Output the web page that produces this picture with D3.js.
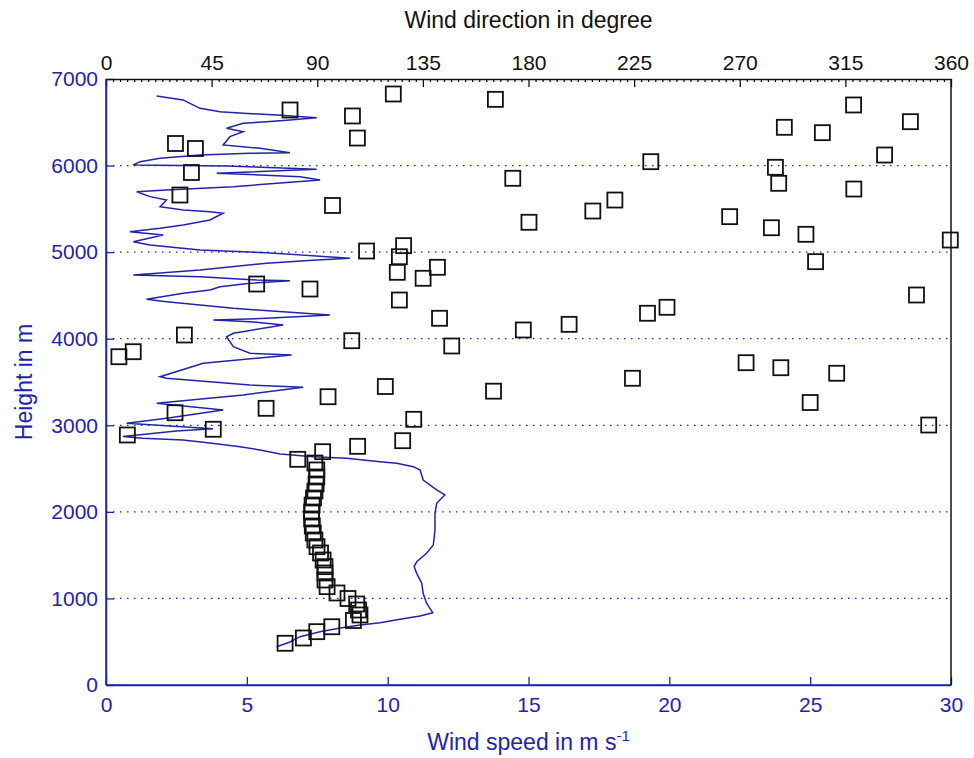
<!DOCTYPE html>
<html>
<head>
<meta charset="utf-8">
<script src="https://cdn.jsdelivr.net/npm/d3@7"></script>
<style>
  html, body { margin: 0; padding: 0; background: #ffffff; }
  svg { display: block; }
  text { font-family: "Liberation Sans", Arial, sans-serif; }
</style>
</head>
<body>
<svg id="chart" width="974" height="758"></svg>
<script>
// Wind speed profile (m s-1) against height (m)
const speedHeight = [442, 497, 558, 616, 658, 693, 720, 759, 797, 835, 944, 1059, 1175, 1290, 1367, 1424,
  1521, 1617, 1790, 1983, 2099, 2195, 2253, 2368, 2484, 2522, 2561, 2579, 2619, 2637, 2668, 2715, 2753,
  2795, 2830, 2850, 2870, 2935, 2960, 3023, 3081, 3177, 3254, 3350, 3439, 3465, 3543, 3561, 3716, 3812,
  3832, 3908, 4023, 4063, 4159, 4197, 4216, 4236, 4274, 4351, 4428, 4455, 4525, 4563, 4601, 4640, 4670,
  4678, 4717, 4736, 4794, 4871, 4909, 4929, 4994, 5025, 5083, 5121, 5198, 5236, 5275, 5314, 5372, 5449,
  5467, 5487, 5525, 5602, 5641, 5698, 5718, 5756, 5833, 5872, 5911, 5957, 5995, 6007, 6045, 6084, 6122,
  6142, 6149, 6200, 6238, 6334, 6391, 6431, 6488, 6507, 6527, 6553, 6584, 6604, 6622, 6661, 6719, 6758, 6804];
const speedValue = [6.06, 6.53, 6.89, 7.60, 8.31, 9.02, 9.73, 10.44, 11.15, 11.60, 11.38, 11.26, 11.21, 11.03, 10.94, 11.03,
  11.38, 11.62, 11.68, 11.68, 11.74, 12.03, 11.74, 11.26, 11.15, 10.91, 10.32, 9.73, 8.54, 7.36, 6.18, 5.47, 4.76,
  3.69, 2.73, 1.30, 0.60, 2.50, 3.80, 0.73, 2.15, 4.16, 1.80, 4.87, 7.00, 5.11, 2.15, 1.92, 3.45, 6.59,
  5.11, 4.52, 4.28, 4.52, 6.29, 5.11, 3.81, 5.70, 7.95, 4.52, 2.15, 1.44, 2.74, 3.69, 4.05, 5.11, 6.53,
  5.35, 3.34, 0.97, 3.34, 5.70, 7.48, 8.66, 5.70, 3.34, 1.56, 0.97, 2.03, 0.85, 1.92, 2.74, 3.69, 4.16,
  3.69, 2.74, 1.92, 2.15, 1.56, 1.09, 2.15, 4.52, 7.60, 6.89, 3.93, 7.48, 4.28, 0.97, 1.21, 1.92, 3.34,
  5.11, 6.53, 5.47, 4.16, 4.40, 4.87, 4.28, 4.87, 5.70, 6.53, 7.48, 6.06, 4.87, 4.05, 3.34, 2.98, 2.74, 1.80];

// Wind direction (degree) against height (m)
const dirHeight = [482, 543, 616, 673, 745, 809, 866, 936, 999, 1063, 1136, 1213, 1294, 1367, 1444, 1525,
  1598, 1675, 1756, 1837, 1918, 1998, 2079, 2160, 2241, 2322, 2403, 2484, 2564,
  2607, 2695, 2757, 2822, 2888, 2954, 3003, 3069, 3145, 3196, 3263, 3330, 3394, 3448, 3543, 3601, 3665,
  3723, 3792, 3850, 3916, 3977, 4043, 4101, 4166, 4236, 4294, 4363, 4447, 4505, 4574, 4632, 4698, 4767,
  4825, 4890, 4947, 5013, 5075, 5140, 5206, 5282, 5345, 5410, 5475, 5539, 5602, 5660, 5729, 5795, 5853,
  5920, 5980, 6045, 6122, 6197, 6255, 6318, 6380, 6442, 6507, 6573, 6642, 6700, 6765, 6827];
const dirValue = [76.3, 84.1, 89.8, 96.2, 105.4, 108.2, 107.6, 106.8, 103.1, 98.4, 94.2, 93.3, 93.3, 93.3, 92.5, 91.4,
  89.9, 89.0, 88.3, 87.9, 87.6, 87.6, 87.8, 88.4, 89.0, 89.5, 89.8, 89.8, 89.0,
  81.7, 92.3, 107.2, 126.4, 9.1, 45.7, 350.5, 131.1, 29.4, 68.2, 300.0, 94.6, 165.1, 119.0, 224.3, 311.3, 287.5,
  272.7, 5.5, 11.6, 147.3, 104.7, 33.4, 177.8, 197.3, 142.1, 230.7, 239.0, 125.0, 345.3, 86.9, 64.2, 135.1, 124.1,
  141.2, 302.3, 125.0, 111.0, 126.8, 359.7, 298.2, 283.5, 180.2, 265.7, 207.4, 96.5, 216.8, 31.5, 318.6, 286.6, 173.3,
  36.4, 285.2, 232.1, 331.7, 38.1, 29.6, 107.1, 305.2, 289.0, 342.7, 105.0, 78.4, 318.5, 165.9, 122.4];

// Axis tick values
const speedTicks = [0, 5, 10, 15, 20, 25, 30];
const heightTicks = [0, 1000, 2000, 3000, 4000, 5000, 6000, 7000];
const gridHeights = [1000, 2000, 3000, 4000, 5000, 6000];
const dirTicks = [0, 45, 90, 135, 180, 225, 270, 315, 360];

const blue = "#2323aa";
const black = "#111111";
const plot = { left: 106, right: 951, top: 79, bottom: 685 };

const svg = d3.select("#chart");

const xSpeed = d3.scaleLinear().domain([0, 30]).range([plot.left, plot.right]);
const xDir = d3.scaleLinear().domain([0, 360]).range([plot.left, plot.right]);
const y = d3.scaleLinear().domain([0, 7000]).range([plot.bottom, plot.top]);

// dotted horizontal grid
svg.append("g").selectAll("line").data(gridHeights).join("line")
  .attr("x1", plot.left).attr("x2", plot.right)
  .attr("y1", d => y(d)).attr("y2", d => y(d))
  .attr("stroke", blue).attr("stroke-width", 1.2)
  .attr("stroke-dasharray", "1.5,5.5");

// wind speed profile
const speedPts = speedHeight.map((h, i) => [speedValue[i], h]);
svg.append("path")
  .datum(speedPts)
  .attr("fill", "none")
  .attr("stroke", blue)
  .attr("stroke-width", 1.5)
  .attr("stroke-linejoin", "miter")
  .attr("d", d3.line().x(d => xSpeed(d[0])).y(d => y(d[1])));

// wind direction markers
const side = 15;
const dirPts = dirHeight.map((h, i) => [dirValue[i], h]);
svg.append("g").selectAll("rect").data(dirPts).join("rect")
  .attr("x", d => xDir(d[0]) - side / 2)
  .attr("y", d => y(d[1]) - side / 2)
  .attr("width", side).attr("height", side)
  .attr("fill", "none")
  .attr("stroke", black)
  .attr("stroke-width", 1.8);

function styleAxis(g, color, size) {
  g.selectAll(".domain").attr("stroke", color).attr("stroke-width", 1.5);
  g.selectAll(".tick line").attr("stroke", color).attr("stroke-width", 1.3);
  g.selectAll(".tick text").attr("fill", color)
    .style("font-size", size + "px")
    .style("font-family", '"Liberation Sans", Arial, sans-serif');
}

// bottom axis: wind speed
const gx = svg.append("g")
  .attr("transform", `translate(0,${plot.bottom})`)
  .call(d3.axisBottom(xSpeed).tickValues(speedTicks).tickFormat(d3.format("d"))
    .tickSizeInner(-8).tickSizeOuter(0).tickPadding(12));
styleAxis(gx, blue, 21);

// left axis: height
const gy = svg.append("g")
  .attr("transform", `translate(${plot.left},0)`)
  .call(d3.axisLeft(y).tickValues(heightTicks).tickFormat(d3.format("d"))
    .tickSizeInner(-8).tickSizeOuter(0).tickPadding(8));
styleAxis(gy, blue, 21);

// top axis: wind direction, with minor ticks
const minorDir = d3.range(0, 361, 3).filter(d => d % 45 !== 0);
const gtMinor = svg.append("g")
  .attr("transform", `translate(0,${plot.top})`)
  .call(d3.axisTop(xDir).tickValues(minorDir).tickFormat("")
    .tickSizeInner(-3).tickSizeOuter(0));
styleAxis(gtMinor, black, 21);
gtMinor.select(".domain").remove();

const gt = svg.append("g")
  .attr("transform", `translate(0,${plot.top})`)
  .call(d3.axisTop(xDir).tickValues(dirTicks).tickFormat(d3.format("d"))
    .tickSizeInner(-8).tickSizeOuter(0).tickPadding(9));
styleAxis(gt, black, 21);

// right border
svg.append("line")
  .attr("x1", plot.right).attr("x2", plot.right)
  .attr("y1", plot.top).attr("y2", plot.bottom)
  .attr("stroke", black).attr("stroke-width", 1.5);

// redraw the blue frame edges on top
svg.append("line")
  .attr("x1", plot.left).attr("x2", plot.left)
  .attr("y1", plot.top).attr("y2", plot.bottom)
  .attr("stroke", blue).attr("stroke-width", 1.5);
svg.append("line")
  .attr("x1", plot.left).attr("x2", plot.right)
  .attr("y1", plot.bottom).attr("y2", plot.bottom)
  .attr("stroke", blue).attr("stroke-width", 1.5);

// axis titles
svg.append("text")
  .attr("x", (plot.left + plot.right) / 2).attr("y", 28)
  .attr("text-anchor", "middle").attr("fill", black)
  .style("font-size", "23px")
  .text("Wind direction in degree");

const xt = svg.append("text")
  .attr("x", (plot.left + plot.right) / 2).attr("y", 750)
  .attr("text-anchor", "middle").attr("fill", blue)
  .style("font-size", "23px");
xt.append("tspan").text("Wind speed in m s");
xt.append("tspan").attr("dy", -9).style("font-size", "15px").text("-1");

svg.append("text")
  .attr("transform", `translate(32,${(plot.top + plot.bottom) / 2}) rotate(-90)`)
  .attr("text-anchor", "middle").attr("fill", blue)
  .style("font-size", "23px")
  .text("Height in m");
</script>
</body>
</html>
